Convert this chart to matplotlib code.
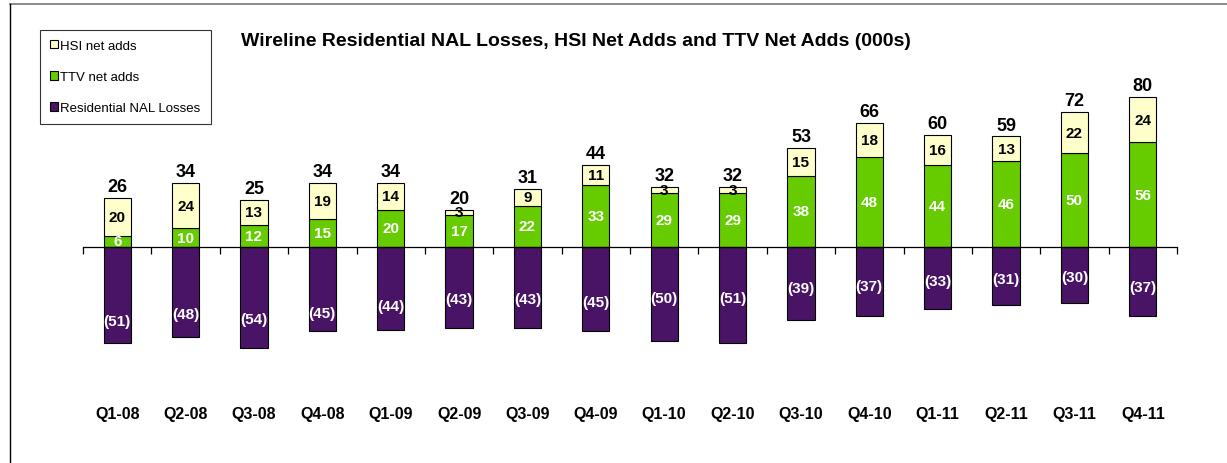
import matplotlib.pyplot as plt
from matplotlib.lines import Line2D
from matplotlib.patches import Patch
import numpy as np

plt.rcParams['font.family'] = ['Liberation Sans', 'DejaVu Sans']

# Données
quarters = ["Q1-08", "Q2-08", "Q3-08", "Q4-08", "Q1-09", "Q2-09", "Q3-09", "Q4-09",
            "Q1-10", "Q2-10", "Q3-10", "Q4-10", "Q1-11", "Q2-11", "Q3-11", "Q4-11"]
ttv = [6, 10, 12, 15, 20, 17, 22, 33, 29, 29, 38, 48, 44, 46, 50, 56]
hsi = [20, 24, 13, 19, 14, 3, 9, 11, 3, 3, 15, 18, 16, 13, 22, 24]
nal = [-51, -48, -54, -45, -44, -43, -43, -45, -50, -51, -39, -37, -33, -31, -30, -37]
totals = [26, 34, 25, 34, 34, 20, 31, 44, 32, 32, 53, 66, 60, 59, 72, 80]

# décalage vertical des étiquettes NAL (en pixels, vers le bas)
nal_drop = [26, 22, 21, 24, 18, 12, 12, 13, 4, 3, 4, 4, 3, 3, 2, 5]

c_hsi = "#FFFFCC"
c_ttv = "#66CC00"
c_nal = "#4A1466"

W, H = 1227, 464
fig = plt.figure(figsize=(W / 100, H / 100), dpi=100)

# axes placées en pixels : zéro à y=248, 1.875 px par unité
left, right = 83, 1177
top_px, bot_px = 60, 380
scale = 1.875
ax = fig.add_axes([left / W, (H - bot_px) / H, (right - left) / W, (bot_px - top_px) / H])
ax.set_ylim(-(bot_px - 248) / scale, (248 - top_px) / scale)
x = np.arange(len(quarters))
ax.set_xlim(-0.5, len(quarters) - 0.5)

bw = 0.4
ax.bar(x, ttv, bw, color=c_ttv, edgecolor="black", lw=0.8, label="TTV net adds")
ax.bar(x, hsi, bw, bottom=ttv, color=c_hsi, edgecolor="black", lw=0.8, label="HSI net adds")
ax.bar(x, nal, bw, color=c_nal, edgecolor="black", lw=0.8, label="Residential NAL Losses")

for i in range(len(quarters)):
    ax.text(x[i], ttv[i] / 2, str(ttv[i]), ha="center", va="center",
            color="white", fontsize=11, fontweight="bold")
    ax.text(x[i], ttv[i] + hsi[i] / 2, str(hsi[i]), ha="center", va="center",
            color="black", fontsize=11, fontweight="bold")
    ax.text(x[i], nal[i] / 2 - nal_drop[i] / scale, "(%d)" % -nal[i], ha="center", va="center",
            color="white", fontsize=11, fontweight="bold")
    ax.text(x[i], ttv[i] + hsi[i] + 1.5, str(totals[i]), ha="center", va="bottom",
            color="black", fontsize=13, fontweight="bold")
    ax.text(x[i], -(415 - 248) / scale, quarters[i], ha="center", va="center",
            color="black", fontsize=11.5, fontweight="bold")

# axe horizontal au zéro, graduations entre les catégories
for s in ["left", "right", "top"]:
    ax.spines[s].set_visible(False)
ax.spines["bottom"].set_position(("data", 0))
ax.spines["bottom"].set_linewidth(0.9)
ax.set_xticks(np.arange(-0.5, len(quarters) + 0.5, 1))
ax.tick_params(axis="x", direction="out", length=5, width=0.9, labelbottom=False)
ax.set_yticks([])

fig.text(576 / W, 1 - 41 / H, "Wireline Residential NAL Losses, HSI Net Adds and TTV Net Adds (000s)",
         ha="center", va="center", fontsize=14, fontweight="bold")

handles = [Patch(facecolor=c_hsi, edgecolor="black", lw=0.8),
           Patch(facecolor=c_ttv, edgecolor="black", lw=0.8),
           Patch(facecolor=c_nal, edgecolor="black", lw=0.8)]
leg = fig.legend(handles, ["HSI net adds", "TTV net adds", "Residential NAL Losses"],
                 loc="upper left", bbox_to_anchor=(40 / W, 1 - 31 / H), borderaxespad=0,
                 fontsize=9.5, frameon=True, fancybox=False, edgecolor="black",
                 handlelength=0.6, handleheight=0.6, handletextpad=0.2,
                 labelspacing=1.45, borderpad=0.75)
leg.get_frame().set_linewidth(0.8)

# cadre extérieur
fig.add_artist(Line2D([10 / W, 1], [1 - 5 / H, 1 - 5 / H], color="#777777", lw=1.2))
fig.add_artist(Line2D([10 / W, 10 / W], [0, 1 - 5 / H], color="black", lw=1.0))

fig.savefig("out.png", dpi=100)
